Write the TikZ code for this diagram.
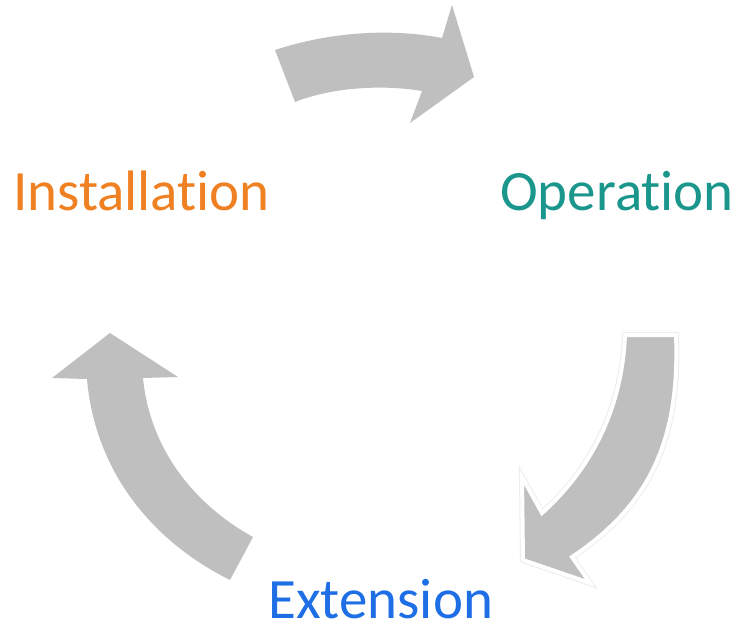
\documentclass[tikz,border=0pt]{standalone}
\usepackage{fontspec}
\setmainfont{Carlito}[RawFeature={-liga;-clig;-calt;-dlig}]
\definecolor{arrowgray}{HTML}{BFBFBF}
\definecolor{instorange}{HTML}{F08122}
\definecolor{opteal}{HTML}{1A968C}
\definecolor{extblue}{HTML}{1E6FE6}
\begin{document}
\begin{tikzpicture}[x=1pt,y=-1pt,
  cyclearrow/.style={fill=arrowgray, draw=none},
  label/.style={anchor=base west, inner sep=0pt, font=\fontsize{57}{60}\selectfont}]
\useasboundingbox (0,0) rectangle (738,626);
\fill[white] (0,0) rectangle (738,626);
% top arrow
\path[cyclearrow] (275,50) .. controls (330,32) and (390,28) .. (442,38) -- (452,5) -- (474,77) -- (410,123) -- (422,91) .. controls (380,84) and (330,88) .. (295,102) -- cycle;
% right arrow with white outline
\path[draw=black!7, line width=6pt, line join=miter] (625,335) -- (676,335) .. controls (680,440) and (650,505) .. (572,557) -- (590,583) -- (523,560) -- (522,477) -- (542,513) .. controls (590,470) and (622,410) .. (625,335) -- cycle;
\path[cyclearrow, draw=white, line width=4pt, line join=miter] (625,335) -- (676,335) .. controls (680,440) and (650,505) .. (572,557) -- (590,583) -- (523,560) -- (522,477) -- (542,513) .. controls (590,470) and (622,410) .. (625,335) -- cycle;
% left arrow
\path[cyclearrow] (110,333) -- (178,377) -- (143,378) .. controls (150,450) and (195,505) .. (253,537) -- (230,580) .. controls (150,540) and (95,470) .. (87,379) -- (52,378) -- cycle;
% labels
\node[label, text=instorange] (inst) at (13,210) {Installation};
\node[label, text=opteal] (oper) at (500,210) {Operation};
\node[label, text=extblue] (ext) at (268,618) {Extension};
\end{tikzpicture}
\end{document}
